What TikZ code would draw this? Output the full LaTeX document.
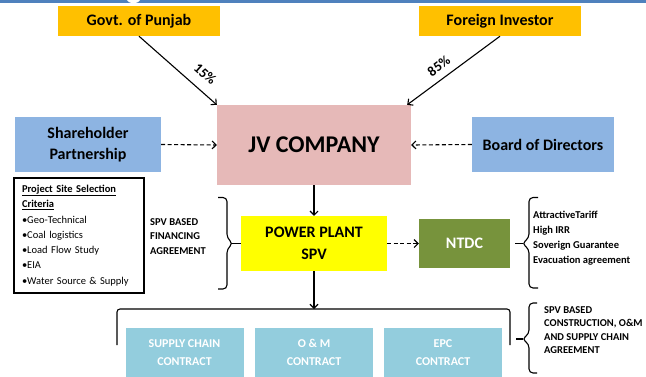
\documentclass[tikz,border=0pt]{standalone}
\usepackage{fontspec}
\setmainfont{Carlito}
\usetikzlibrary{arrows.meta}

\definecolor{headblue}{HTML}{4F81BD}
\definecolor{ownorange}{HTML}{FFC000}
\definecolor{jvpink}{HTML}{E6B9B8}
\definecolor{sideblue}{HTML}{8DB4E2}
\definecolor{spvyellow}{HTML}{FFFF00}
\definecolor{ntdcgreen}{HTML}{77933C}
\definecolor{contractblue}{HTML}{93CDDD}

\begin{document}
\begin{tikzpicture}[x=1pt,y=-1pt,
    >={Straight Barb[length=4pt,width=8pt]},
    box/.style={inner sep=2pt,align=center,font=\bfseries\fontsize{16}{21}\selectfont},
    contract/.style={fill=contractblue,text=white,minimum width=118pt,minimum height=49pt,
        inner sep=2pt,align=center,font=\bfseries\fontsize{12}{18}\selectfont},
    note/.style={anchor=west,inner sep=0pt,align=left,font=\bfseries\fontsize{10.5}{14.5}\selectfont},
    flow/.style={line width=1.1pt},
    dashflow/.style={line width=1.1pt,dash pattern=on 4pt off 2.5pt},
    bracket/.style={line width=1.1pt,rounded corners=4pt},
    share/.style={inner sep=1pt,font=\bfseries\fontsize{14}{16}\selectfont}]
    \useasboundingbox (0,0) rectangle (646,376);

    % header strip
    \fill[headblue] (0,0) rectangle (646,3);
    \fill[white] (133.5,0) ellipse (6.5 and 3);

    % owners and company
    \node[box,fill=ownorange,minimum width=162pt,minimum height=30pt] (govt) at (139,21) {Govt. of Punjab};
    \node[box,fill=ownorange,minimum width=162pt,minimum height=30pt] (investor) at (500,21) {Foreign Investor};
    \node[box,fill=jvpink,minimum width=194pt,minimum height=80pt,font=\bfseries\fontsize{24}{28}\selectfont] (jv) at (314,145) {JV COMPANY};
    \node[box,fill=sideblue,minimum width=146pt,minimum height=55pt] (holder) at (88,144.5) {Shareholder\\Partnership};
    \node[box,fill=sideblue,minimum width=142pt,minimum height=55pt] (board) at (543,144.5) {Board of Directors};

    \path [->,flow] (govt.south) edge node[sloped,above=9pt,pos=0.72,share] {15\%} (jv.north west);
    \path [->,flow] (investor.south) edge node[sloped,above=6pt,pos=0.58,share] {85\%} ([xshift=-4pt]jv.north east);
    \path [->,dashflow] (holder.east) edge (jv.west);
    \path [->,dashflow] (board.west) edge (jv.east);

    % SPV level
    \node[box,fill=spvyellow,minimum width=146pt,minimum height=55pt,font=\bfseries\fontsize{16}{22}\selectfont] (spv) at (314,243.5) {POWER PLANT\\SPV};
    \node[box,fill=ntdcgreen,text=white,minimum width=91pt,minimum height=49pt] (ntdc) at (464.5,243.5) {NTDC};
    \path [->,flow] (jv.south) edge (spv.north);
    \path [->,dashflow] (spv.east) edge (ntdc.west);

    \node[draw=black,line width=1.2pt,minimum width=130pt,minimum height=115pt,text width=114pt,
        inner sep=0pt,align=left,font=\fontsize{10.5}{15.3}\selectfont] (site) at (79,235.5)
        {\textbf{\underline{Project Site Selection}}\\\textbf{\underline{Criteria}}\\
         \textbullet Geo-Technical\\\textbullet Coal logistics\\\textbullet Load Flow Study\\
         \textbullet EIA\\\textbullet Water Source \& Supply};

    \node[note] (financing) at (150,236.5) {SPV BASED\\FINANCING\\AGREEMENT};
    \draw[bracket] (218,197.5) -- (227,197.5) -- (227,238) -- (233,243.5) -- (227,249) -- (227,289) -- (218,289);
    \coordinate (fintip) at (232,243.5);
    \draw[line width=1.1pt] (fintip) -- (spv.west);

    \node[note,font=\bfseries\fontsize{10.5}{15}\selectfont] (terms) at (533,238) {AttractiveTariff\\High IRR\\Soverign Guarantee\\Evacuation agreement};
    \draw[bracket] (538,197.5) -- (529,197.5) -- (529,238) -- (522,243.5) -- (529,249) -- (529,288) -- (538,288);
    \coordinate (termtip) at (515,243.5);
    \draw[line width=1.1pt] (termtip) -- (523,243.5);

    % contracts
    \coordinate (split) at (314,309);
    \path [->,flow] (spv.south) edge (split);
    \draw[bracket,rounded corners=3pt] (117,345) -- (117,309) -- (510,309) -- (510,345);

    \node[contract] (supply) at (184.5,352.5) {SUPPLY CHAIN\\CONTRACT};
    \node[contract] (om) at (314,352.5) {O \& M\\CONTRACT};
    \node[contract] (epc) at (443,352.5) {EPC\\CONTRACT};

    \node[note,font=\bfseries\fontsize{10.5}{13.5}\selectfont] (build) at (544,330) {SPV BASED\\CONSTRUCTION, O\&M\\AND SUPPLY CHAIN\\AGREEMENT};
    \draw[bracket] (537,303) -- (529,303) -- (529,334) -- (522,339) -- (529,344) -- (529,373) -- (537,373);
    \coordinate (buildtip) at (516,339);
    \draw[line width=1.1pt] (buildtip) -- (523,339);
\end{tikzpicture}
\end{document}
